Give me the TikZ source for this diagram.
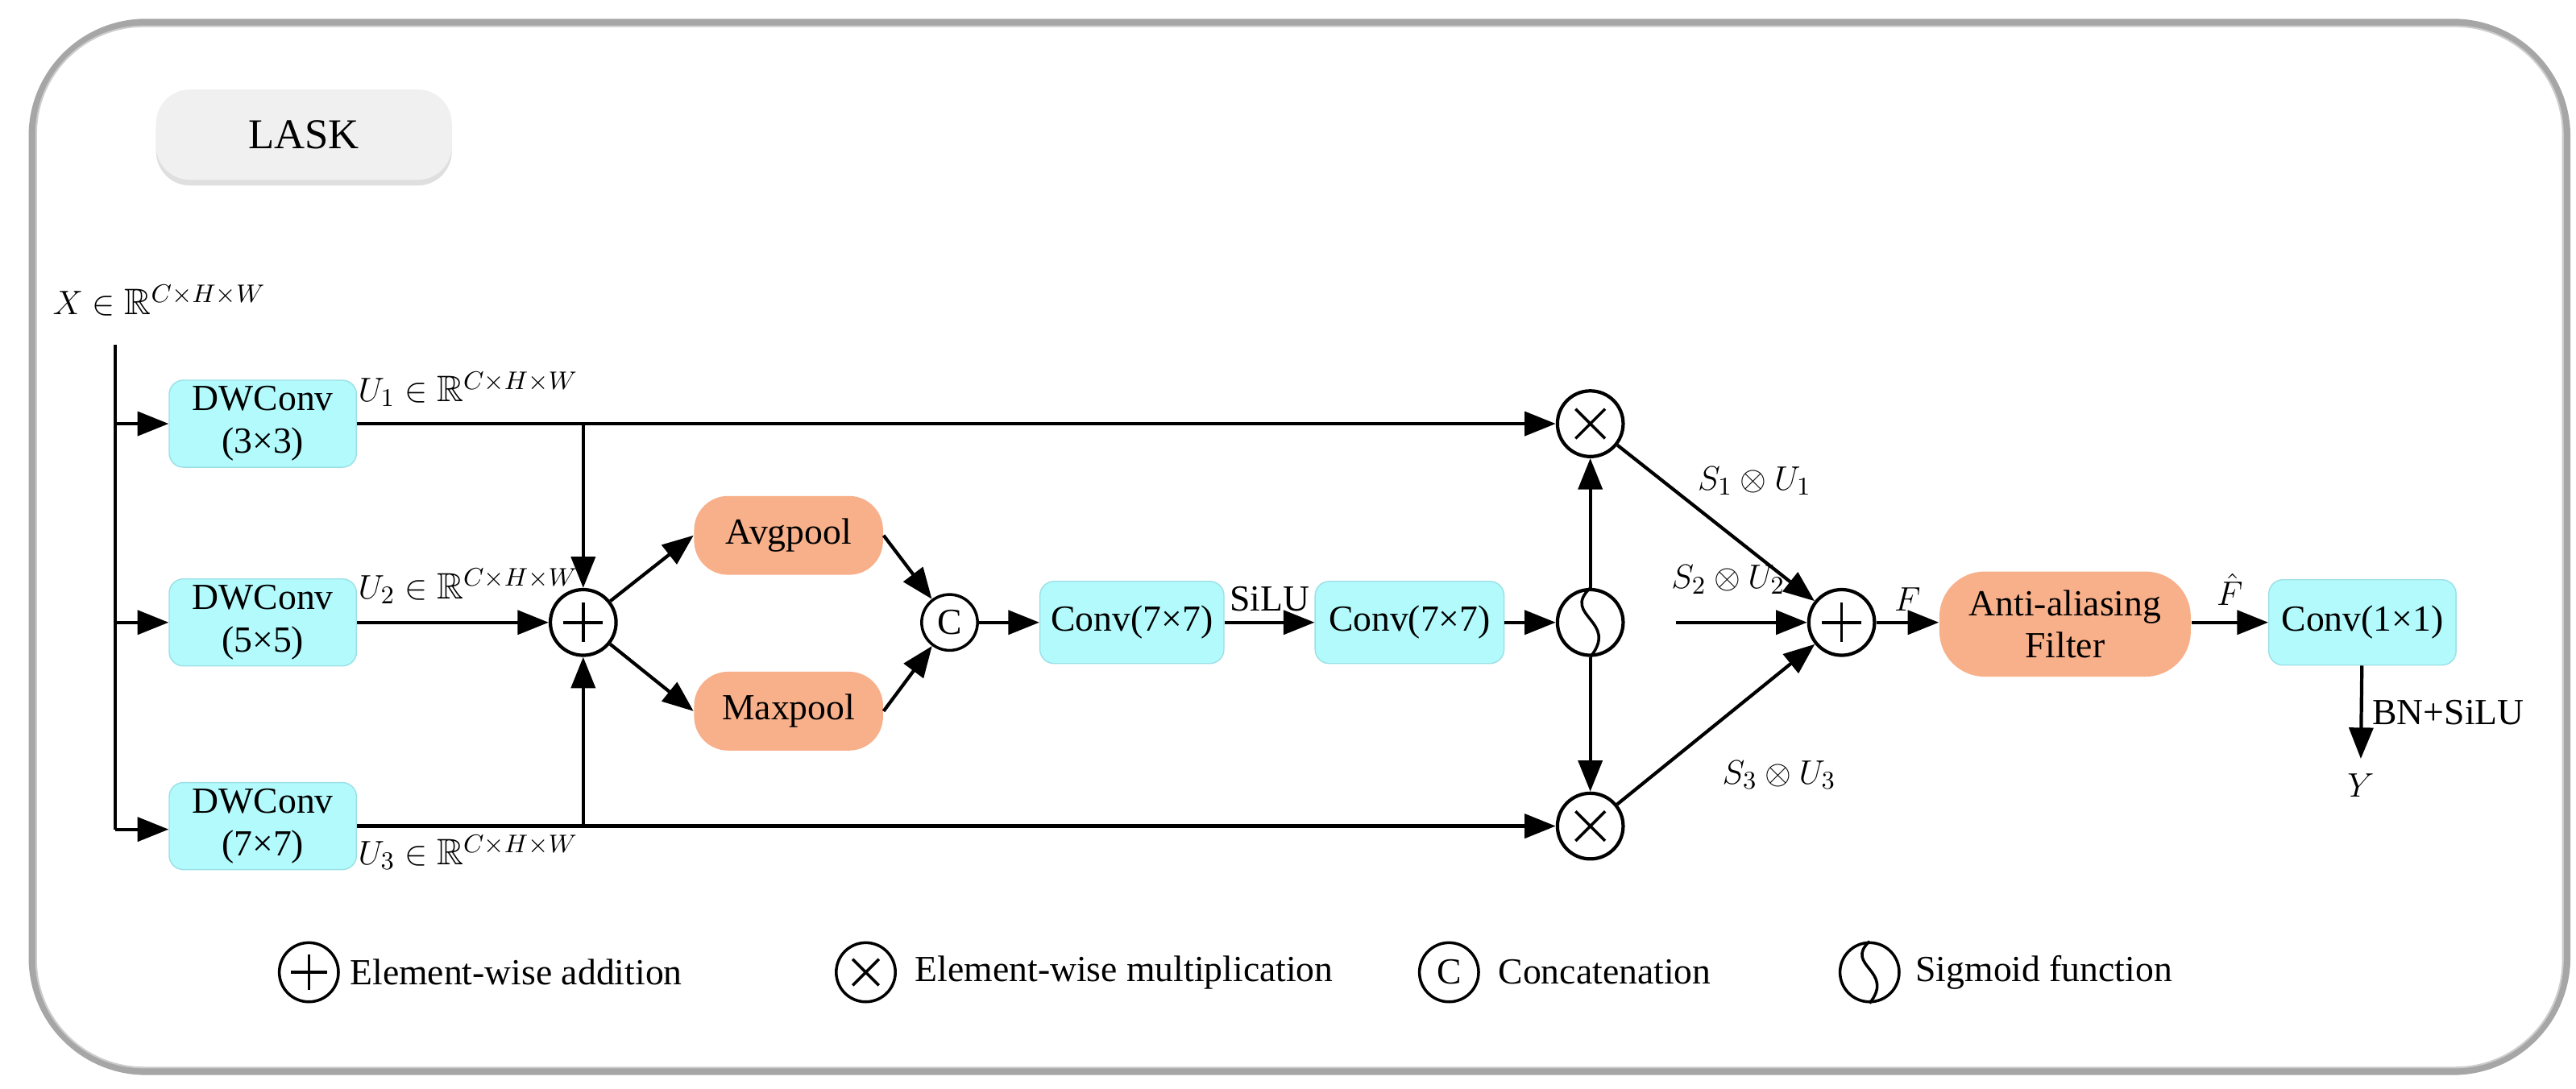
\documentclass[tikz,border=0pt]{standalone}
\usepackage{amssymb}
\usepackage{fontspec}
\setmainfont{Liberation Serif}
\usetikzlibrary{arrows.meta,shadows}
\definecolor{cy}{HTML}{B3FAFC}
\definecolor{cyb}{HTML}{9AE0E6}
\definecolor{org}{HTML}{F8B08A}
\begin{document}
\begin{tikzpicture}[x=0.0204cm,y=-0.0204cm,
  font=\fontsize{13}{15}\selectfont,
  ar/.style={line width=1.2pt,-{Triangle[length=11pt,width=8.5pt]}},
  ln/.style={line width=1.2pt},
  cb/.style={draw=cyb,fill=cy,rounded corners=5pt,minimum width=114*0.0204cm,minimum height=53*0.0204cm,align=center,inner sep=1pt},
  ob/.style={fill=org,rounded corners=12pt,minimum width=115*0.0204cm,minimum height=48*0.0204cm,align=center},
  op/.style={circle,draw,line width=1.2pt,minimum size=40*0.0204cm,inner sep=0pt},
  ops/.style={circle,draw,line width=1pt,minimum size=34*0.0204cm,inner sep=0pt}]
\useasboundingbox (0,0) rectangle (1568,663);
\draw[line width=3pt,draw=black!35,rounded corners=40pt] (20,14) rectangle (1562,652);
\draw[line width=0.6pt,draw=black!20,rounded corners=38pt,fill=white] (22,16) rectangle (1560,650);
\node[fill=black!6,rounded corners=12pt,minimum width=180*0.0204cm,minimum height=55*0.0204cm,drop shadow={opacity=0.25,shadow xshift=0pt,shadow yshift=-2pt},font=\fontsize{15}{17}\selectfont] (lask) at (185,82) {LASK};

\node (xl) at (97,183) {$X\in\mathbb{R}^{C\times H\times W}$};
\coordinate (xt) at (70,210);
\coordinate (xb) at (70,505);
\draw[ln] (xt) -- (xb);
\node[cb] (d1) at (160,258) {DWConv\\(3×3)};
\node[cb] (d2) at (160,379) {DWConv\\(5×5)};
\node[cb] (d3) at (160,503) {DWConv\\(7×7)};
\draw[ar] (70,258) -- (d1);
\draw[ar] (70,379) -- (d2);
\draw[ar] (xb) -- (d3.west|-xb);
\node at (285,237) {$U_1\in\mathbb{R}^{C\times H\times W}$};
\node at (285,357) {$U_2\in\mathbb{R}^{C\times H\times W}$};
\node at (285,519) {$U_3\in\mathbb{R}^{C\times H\times W}$};

\node[op] (p1) at (355,379) {};
\draw[line width=1pt] (p1.center) +(-12,0) -- +(12,0) (p1.center) +(0,-12) -- +(0,12);
\node[op] (m1) at (968,258) {};
\node[op] (m2) at (968,503) {};
\foreach \n in {m1,m2} \draw[line width=1pt] (\n.center) +(-9,-9) -- +(9,9) (\n.center) +(-9,9) -- +(9,-9);
\node[op] (sg) at (968,379) {};
\draw[line width=1pt] (sg.north) .. controls (950,375) and (986,378) .. (sg.south);
\node[op] (p2) at (1121,379) {};
\draw[line width=1pt] (p2.center) +(-12,0) -- +(12,0) (p2.center) +(0,-12) -- +(0,12);

\draw[ar] (d1) -- (m1);
\draw[ar] (d3) -- (m2);
\coordinate (j1) at (355,258);
\coordinate (j3) at (355,503);
\draw[ar] (j1) -- (p1);
\draw[ar] (j3) -- (p1);
\draw[ar] (d2) -- (p1);

\node[ob] (av) at (480,326) {Avgpool};
\node[ob] (mx) at (480,433) {Maxpool};
\draw[ar] (p1) -- (av.west);
\draw[ar] (p1) -- (mx.west);
\node[ops] (cc) at (578,379) {C};
\draw[ar] (av.east) -- (cc);
\draw[ar] (mx.east) -- (cc);
\node[cb,minimum width=112*0.0204cm,minimum height=50*0.0204cm] (c7a) at (689,379) {Conv(7×7)};
\node[cb,minimum width=115*0.0204cm,minimum height=50*0.0204cm] (c7b) at (858,379) {Conv(7×7)};
\draw[ar] (cc) -- (c7a);
\draw[ar] (c7a) -- node[above] {SiLU} (c7b);
\draw[ar] (c7b) -- (sg);
\draw[ar] (sg) -- (m1);
\draw[ar] (sg) -- (m2);

\draw[ar] (m1) -- (p2);
\draw[ar] (m2) -- (p2);
\coordinate (s2) at (1020,379);
\draw[ar] (s2) -- (p2);
\node at (1068,293) {$S_1\otimes U_1$};
\node at (1052,353) {$S_2\otimes U_2$};
\node at (1083,472) {$S_3\otimes U_3$};

\node[ob,minimum width=153*0.0204cm,minimum height=64*0.0204cm,rounded corners=16pt] (aa) at (1257,380) {Anti-aliasing\\Filter};
\draw[ar] (p2) -- node[above] {$F$} (aa.west|-p2);
\node[cb,minimum width=114*0.0204cm,minimum height=52*0.0204cm] (c1) at (1438,379) {Conv(1×1)};
\draw[ar] (aa.east|-c1) -- node[above,yshift=2pt] {$\hat F$} (c1);
\node (y) at (1437,478) {$Y$};
\draw[ar] (c1) -- node[right] {BN+SiLU} (1437,462);

% legend
\node[ops,minimum size=36*0.0204cm] (l1) at (188,592) {};
\draw[line width=1pt] (l1.center) +(-11,0) -- +(11,0) (l1.center) +(0,-11) -- +(0,11);
\node[anchor=west] (t1) at (207,592) {Element-wise addition};
\node[ops,minimum size=36*0.0204cm] (l2) at (527,592) {};
\draw[line width=1pt] (l2.center) +(-8,-8) -- +(8,8) (l2.center) +(-8,8) -- +(8,-8);
\node[anchor=west] (t2) at (551,592) {Element-wise multiplication};
\node[ops,minimum size=36*0.0204cm] (l3) at (882,592) {C};
\node[anchor=west] (t3) at (906,592) {Concatenation};
\node[ops,minimum size=36*0.0204cm] (l4) at (1138,592) {};
\draw[line width=1pt] (l4.north) .. controls (1122,588) and (1154,591) .. (l4.south);
\node[anchor=west] (t4) at (1160,592) {Sigmoid function};
\end{tikzpicture}
\end{document}
